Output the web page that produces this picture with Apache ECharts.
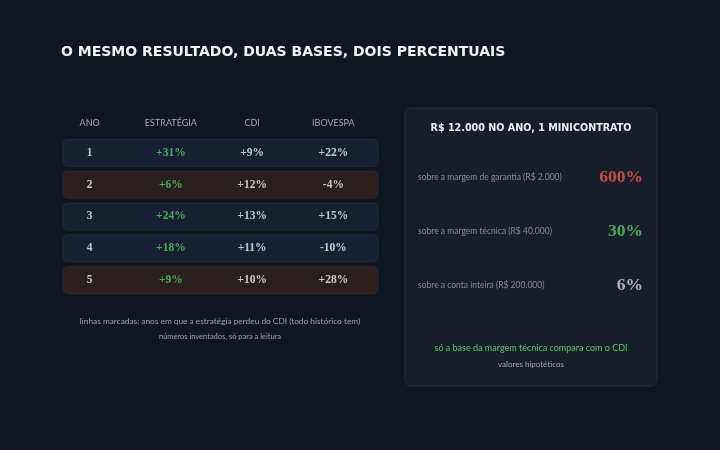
<!DOCTYPE html>
<html>
<head>
<meta charset="utf-8">
<script src="https://cdn.jsdelivr.net/npm/echarts@6/dist/echarts.min.js"></script>
<style>
  html, body { margin: 0; padding: 0; background: #111720; }
  #chart { width: 720px; height: 450px; }
</style>
</head>
<body>
<div id="chart"></div>
<script>
// tabela anual
const columns = ['ANO', 'ESTRATÉGIA', 'CDI', 'IBOVESPA'];
const years = ['1', '2', '3', '4', '5'];
const strategy = [31, 6, 24, 18, 9];
const cdi = [9, 12, 13, 11, 10];
const ibovespa = [22, -4, 15, -10, 28];

// painel da direita
const baseLabels = [
  'sobre a margem de garantia (R$ 2.000)',
  'sobre a margem técnica (R$ 40.000)',
  'sobre a conta inteira (R$ 200.000)'
];
const basePct = [600, 30, 6];
const baseColors = ['#ec5a4e', '#58cc65', '#d2d4d7'];

const GREEN = '#58cc65';
const SANS = 'Lato, "Open Sans", sans-serif';
const WIDE = '"DejaVu Sans", sans-serif';
const SERIF = '"Liberation Serif", serif';

function fmt(v) {
  return (v > 0 ? '+' : '') + v + '%';
}

const chart = echarts.init(document.getElementById('chart'));

// linhas marcadas = estratégia abaixo do CDI
const rowData = years.map(function (y, i) {
  return [0, i, strategy[i] < cdi[i] ? 1 : 0];
});

const cellData = [];
years.forEach(function (y, i) {
  cellData.push({ value: [0, i], label: { formatter: y, color: '#f0f1f3' } });
  cellData.push({ value: [1, i], label: { formatter: fmt(strategy[i]), color: GREEN } });
  cellData.push({ value: [2, i], label: { formatter: fmt(cdi[i]), color: '#f0f1f3' } });
  cellData.push({ value: [3, i], label: { formatter: fmt(ibovespa[i]), color: '#f0f1f3' } });
});

const baseNames = baseLabels.map(function (l, i) { return 'b' + i; });

chart.setOption({
  backgroundColor: '#111720',
  animation: false,
  title: {
    text: 'O MESMO RESULTADO, DUAS BASES, DOIS PERCENTUAIS',
    left: 56,
    top: 40,
    textStyle: { color: '#f1f2f4', fontFamily: WIDE, fontSize: 14, fontWeight: 'bold' }
  },
  grid: [
    { left: 49, top: 137, width: 325, height: 159 },
    { left: 418, top: 150, width: 225, height: 162 }
  ],
  xAxis: [
    {
      gridIndex: 0, type: 'category', data: columns, position: 'top',
      axisLine: { show: false }, axisTick: { show: false },
      axisLabel: { color: '#a3a7ae', fontFamily: SANS, fontSize: 9, margin: 9 }
    },
    { gridIndex: 1, type: 'value', min: 0, max: 1, show: false }
  ],
  yAxis: [
    {
      gridIndex: 0, type: 'category', data: years, inverse: true, show: false
    },
    {
      gridIndex: 1, type: 'category', data: baseNames, inverse: true, show: false
    }
  ],
  graphic: [
    {
      type: 'rect', z: -1,
      shape: { x: 405, y: 108, width: 252, height: 278, r: 6 },
      style: { fill: '#181e29', stroke: '#262d3a', lineWidth: 1 }
    },
    {
      type: 'text',
      style: {
        text: 'R$ 12.000 NO ANO, 1 MINICONTRATO', x: 531, y: 128,
        textAlign: 'center', textVerticalAlign: 'middle',
        fill: '#eceef1', font: 'bold 9.6px ' + WIDE
      }
    },
    {
      type: 'text',
      style: {
        text: 'só a base da margem técnica compara com o CDI', x: 531, y: 348,
        textAlign: 'center', textVerticalAlign: 'middle',
        fill: GREEN, font: '9px ' + SANS
      }
    },
    {
      type: 'text',
      style: {
        text: 'valores hipotéticos', x: 531, y: 364,
        textAlign: 'center', textVerticalAlign: 'middle',
        fill: '#a3a7ae', font: '8px ' + SANS
      }
    },
    {
      type: 'text',
      style: {
        text: 'linhas marcadas: anos em que a estratégia perdeu do CDI (todo histórico tem)',
        x: 220, y: 321, textAlign: 'center', textVerticalAlign: 'middle',
        fill: '#9ea2a9', font: '8.3px ' + SANS
      }
    },
    {
      type: 'text',
      style: {
        text: 'números inventados, só para a leitura', x: 220, y: 337,
        textAlign: 'center', textVerticalAlign: 'middle',
        fill: '#9ea2a9', font: '7.5px ' + SANS
      }
    }
  ],
  series: [
    {
      type: 'custom',
      xAxisIndex: 0, yAxisIndex: 0,
      data: rowData,
      z: 1,
      renderItem: function (params, api) {
        const cy = api.coord([0, api.value(1)])[1];
        const bandH = api.size([0, 1])[1];
        const h = bandH - 5;
        const cs = params.coordSys;
        const marked = api.value(2) === 1;
        return {
          type: 'rect',
          shape: { x: cs.x + 14, y: cy - h / 2, width: cs.width - 10, height: h, r: 5 },
          style: {
            fill: marked ? '#291f1f' : '#172030',
            stroke: marked ? '#33282a' : '#222c3a',
            lineWidth: 1
          }
        };
      }
    },
    {
      type: 'scatter',
      xAxisIndex: 0, yAxisIndex: 0,
      symbolSize: 0,
      z: 3,
      data: cellData,
      label: {
        show: true, position: 'inside',
        fontFamily: SERIF, fontSize: 11.5, fontWeight: 'bold'
      }
    },
    {
      type: 'scatter',
      xAxisIndex: 1, yAxisIndex: 1,
      symbolSize: 0,
      z: 3,
      data: baseLabels.map(function (l, i) {
        return { value: [0, i], label: { formatter: l } };
      }),
      label: {
        show: true, position: 'inside', align: 'left',
        color: '#a3a7ae', fontFamily: SANS, fontSize: 8.5
      }
    },
    {
      type: 'scatter',
      xAxisIndex: 1, yAxisIndex: 1,
      symbolSize: 0,
      z: 3,
      data: basePct.map(function (v, i) {
        return { value: [1, i], label: { formatter: v + '%', color: baseColors[i] } };
      }),
      label: {
        show: true, position: 'inside', align: 'right',
        fontFamily: SERIF, fontSize: 17.5, fontWeight: 'bold'
      }
    }
  ]
});
</script>
</body>
</html>
